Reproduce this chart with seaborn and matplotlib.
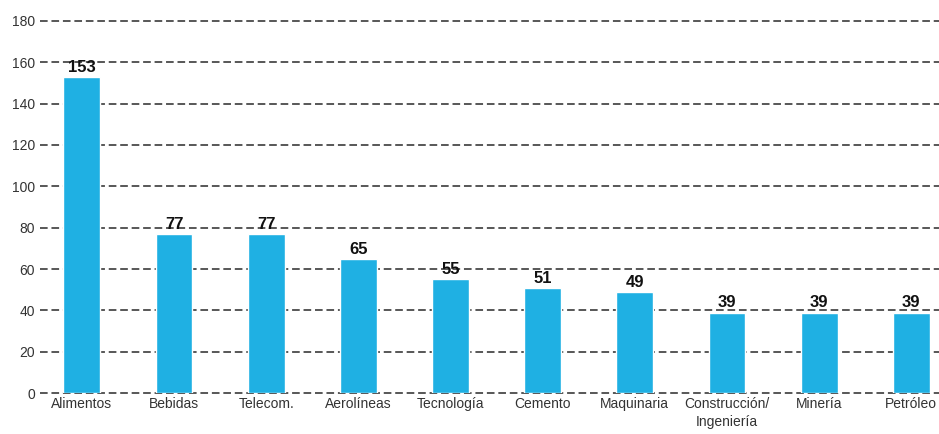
import matplotlib
matplotlib.use("Agg")
import matplotlib.pyplot as plt
import seaborn as sns
import pandas as pd

# Daten
sectores = ["Alimentos", "Bebidas", "Telecom.", "Aerolíneas", "Tecnología",
            "Cemento", "Maquinaria", "Construcción/\nIngeniería", "Minería", "Petróleo"]
valores = [153, 77, 77, 65, 55, 51, 49, 39, 39, 39]

df = pd.DataFrame({"sector": sectores, "valor": valores})

sns.set_style("white")
plt.rcParams["font.family"] = ["Liberation Sans", "DejaVu Sans"]

fig = plt.figure(figsize=(9.39, 4.34), dpi=100)
ax = fig.add_axes([0.043, 0.094, 0.957, 0.858])

sns.barplot(data=df, x="sector", y="valor", color="#1fb0e3", saturation=1,
            width=0.4, ax=ax, zorder=3)

# Gitternetzlinien
ax.set_axisbelow(True)
ax.yaxis.grid(True, linestyle=(0, (5, 2.5)), color="#2a2a2a", linewidth=1.1)
ax.xaxis.grid(False)
for s in ax.spines.values():
    s.set_visible(False)

ax.set_ylim(0, 180)
ax.set_xlim(-0.45, 9.3)
ax.set_yticks(range(0, 181, 20))
for gl in ax.get_ygridlines():
    gl.set_clip_on(False)
ax.tick_params(axis="y", length=0, pad=4, labelsize=10, labelcolor="#333333")
ax.tick_params(axis="x", length=0, pad=3, labelsize=10, labelcolor="#333333")
for lbl in ax.get_xticklabels():
    lbl.set_verticalalignment("top")
    lbl.set_linespacing(1.3)
ax.set_xlabel("")
ax.set_ylabel("")

# Werte über den Balken
for i, v in enumerate(valores):
    ax.text(i, v + 1.0, str(v), ha="center", va="bottom", fontsize=12,
            fontweight="bold", color="#111111", zorder=4)

fig.savefig("out.png", dpi=100)
